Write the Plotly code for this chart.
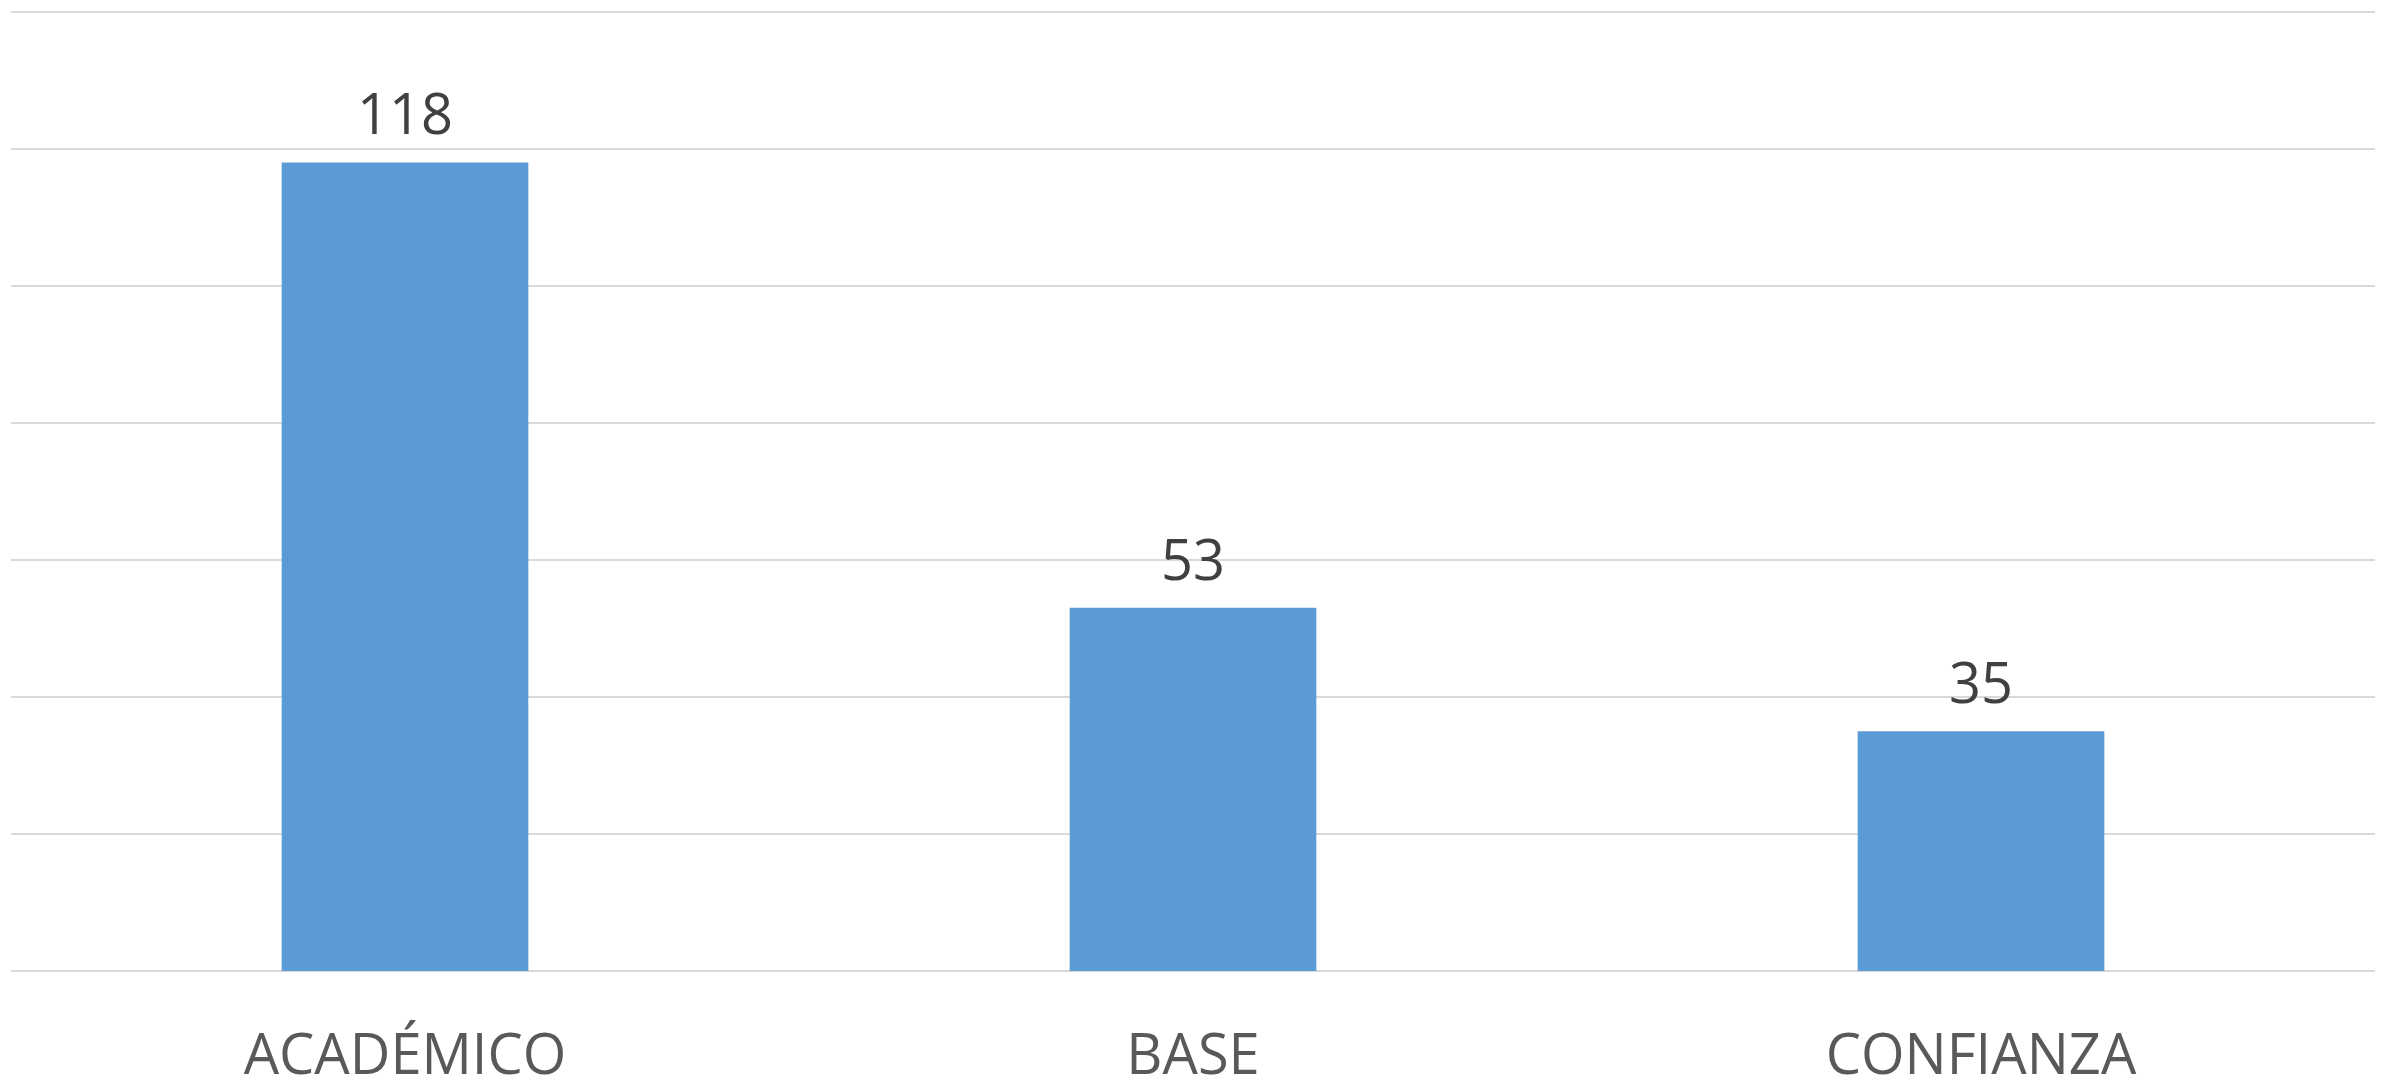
import plotly.graph_objects as go

categories = ["ACADÉMICO", "BASE", "CONFIANZA"]
values = [118, 53, 35]
y_ticks = [0, 20, 40, 60, 80, 100, 120, 140]

BAR_COLOR = "#5B9BD5"
GRID_COLOR = "#D9D9D9"
FONT = "Open Sans"

fig = go.Figure()
fig.add_trace(go.Bar(
    x=categories,
    y=values,
    marker=dict(color=BAR_COLOR, line=dict(width=0)),
    hoverinfo="skip",
))

for c, v in zip(categories, values):
    fig.add_annotation(
        x=c, y=v, text=str(v), showarrow=False,
        xanchor="center", yanchor="bottom", yshift=10,
        font=dict(family=FONT, size=56, color="#404040"),
    )

fig.update_layout(
    width=2387, height=1081,
    margin=dict(l=11, r=12, t=9, b=110, autoexpand=False),
    paper_bgcolor="white", plot_bgcolor="white",
    bargap=0.687,
    showlegend=False,
    font=dict(family=FONT),
)
fig.update_xaxes(
    showgrid=False, showline=False, ticks="",
    tickfont=dict(family=FONT, size=56, color="#595959"),
    ticklabelstandoff=46, automargin=False,
)
fig.update_yaxes(
    range=[0, 140.4], tickvals=y_ticks, showticklabels=False,
    showgrid=True, gridcolor=GRID_COLOR, gridwidth=2,
    zeroline=True, zerolinecolor=GRID_COLOR, zerolinewidth=2,
    showline=False, ticks="", automargin=False,
)

fig.write_html(
    "out.html",
    config={"displayModeBar": False},
    post_script="document.body.style.margin='0';document.body.style.overflow='hidden';",
)
